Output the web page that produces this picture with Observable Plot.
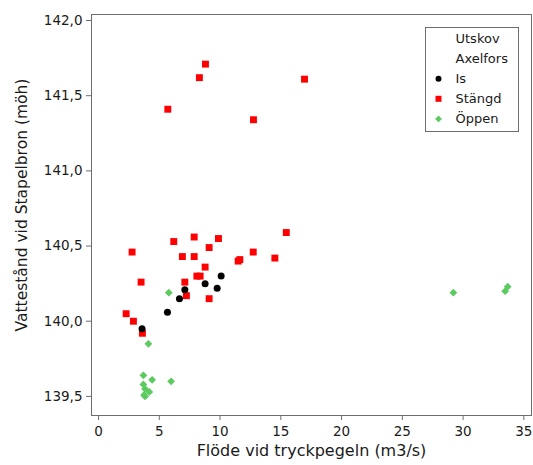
<!DOCTYPE html>
<html><head><meta charset="utf-8">
<script src="https://cdn.jsdelivr.net/npm/d3@7"></script>
<script src="https://cdn.jsdelivr.net/npm/@observablehq/plot@0.6"></script>
<style>body{margin:0;background:#fff;} #chart{width:533px;height:465px;}</style>
</head><body><div id="chart"></div>
<script>
// Utskov Axelfors: Is
const isFlow  = [10.09, 8.77, 9.76, 7.10, 6.66, 5.67, 3.58];
const isLevel = [140.30, 140.25, 140.22, 140.21, 140.15, 140.06, 139.95];
// Stängd
const stangdFlow  = [8.80, 8.30, 5.70, 12.75, 16.95, 2.76, 6.19, 7.87, 9.87, 9.10, 6.90, 7.87, 15.45, 12.73, 14.51, 11.49, 11.63, 8.77, 3.50, 7.10, 8.09, 8.36, 7.23, 9.10, 2.27, 2.87, 3.61];
const stangdLevel = [141.71, 141.62, 141.41, 141.34, 141.61, 140.46, 140.53, 140.56, 140.55, 140.49, 140.43, 140.43, 140.59, 140.46, 140.42, 140.40, 140.41, 140.36, 140.26, 140.26, 140.30, 140.30, 140.17, 140.15, 140.05, 140.00, 139.92];
// Öppen
const oppenFlow  = [5.78, 4.10, 3.69, 4.41, 5.97, 3.69, 3.83, 4.18, 3.75, 3.83, 29.2, 33.46, 33.67];
const oppenLevel = [140.19, 139.85, 139.64, 139.61, 139.60, 139.58, 139.55, 139.53, 139.51, 139.50, 140.19, 140.20, 140.23];

const xTicks = [0, 5, 10, 15, 20, 25, 30, 35];
const yTicks = [139.5, 140.0, 140.5, 141.0, 141.5, 142.0];
const legendTitle = ["Utskov", "Axelfors"];
const categories = ["Is", "Stängd", "Öppen"];
const colors = {"Is": "#000000", "Stängd": "#ff0000", "Öppen": "#5ccb5f"};
const xLabel = "Flöde vid tryckpegeln (m3/s)";
const yLabel = "Vattestånd vid Stapelbron (möh)";

const toRows = (xs, ys, cat) => xs.map((x, i) => ({x, y: ys[i], cat}));
const isData = toRows(isFlow, isLevel, "Is");
const stangdData = toRows(stangdFlow, stangdLevel, "Stängd");
const oppenData = toRows(oppenFlow, oppenLevel, "Öppen");

const fmt = d => d.toFixed(1).replace(".", ",");
const FONT = "'DejaVu Sans', Verdana, sans-serif";

const plot = Plot.plot({
  width: 533, height: 465,
  marginLeft: 91, marginRight: 2, marginTop: 14, marginBottom: 50,
  style: {fontFamily: FONT, fontSize: "13.5px", color: "#1a1a1a", background: "#fff"},
  x: {domain: [-0.58, 35.63]},
  y: {domain: [139.373, 142.04]},
  marks: [
    Plot.frame({stroke: "#6e6e6e"}),
    Plot.axisX({ticks: xTicks, tickSize: 5, tickPadding: 6, label: null, stroke: "#6e6e6e"}),
    Plot.axisY({ticks: yTicks, tickSize: 5, tickPadding: 4, tickFormat: fmt, label: null, stroke: "#6e6e6e"}),
    Plot.text([xLabel], {frameAnchor: "bottom", textAnchor: "middle", dy: 40, fontSize: 16, fill: "#1a1a1a"}),
    Plot.text([yLabel], {frameAnchor: "left", textAnchor: "middle", rotate: -90, dx: -69, dy: -10, fontSize: 15.5, fill: "#1a1a1a"}),
    Plot.dot(stangdData, {x: "x", y: "y", symbol: "square", r: 3.9, fill: colors["Stängd"], stroke: "none"}),
    Plot.dot(isData, {x: "x", y: "y", symbol: "circle", r: 3.5, fill: colors["Is"], stroke: "none"}),
    Plot.dot(oppenData, {x: "x", y: "y", symbol: "diamond2", r: 3.5, fill: colors["Öppen"], stroke: "none"})
  ]
});

// Legend inside the plot area (top right)
const svg = d3.select(plot);
const lg = svg.append("g").attr("transform", "translate(425.5,27.5)")
  .attr("font-family", FONT).attr("font-size", 13).attr("fill", "#1a1a1a")
  .attr("text-anchor", "start");
lg.append("rect").attr("width", 93).attr("height", 104).attr("fill", "#fff").attr("stroke", "#6e6e6e");
const rows = [...legendTitle.map(t => ({t, sym: null})),
  {t: "Is", sym: d3.symbolCircle, size: 28},
  {t: "Stängd", sym: d3.symbolSquare, size: 36},
  {t: "Öppen", sym: d3.symbolDiamond2, size: 30}];
rows.forEach((r, i) => {
  const cy = 11 + i * 20.1;
  if (r.sym) lg.append("path").attr("d", d3.symbol(r.sym, r.size)()).attr("transform", `translate(13,${cy})`).attr("fill", colors[r.t]);
  lg.append("text").attr("x", 30).attr("y", cy).attr("dy", "0.35em").attr("text-anchor", "start").text(r.t);
});

document.getElementById("chart").appendChild(plot);
</script>
</body></html>
